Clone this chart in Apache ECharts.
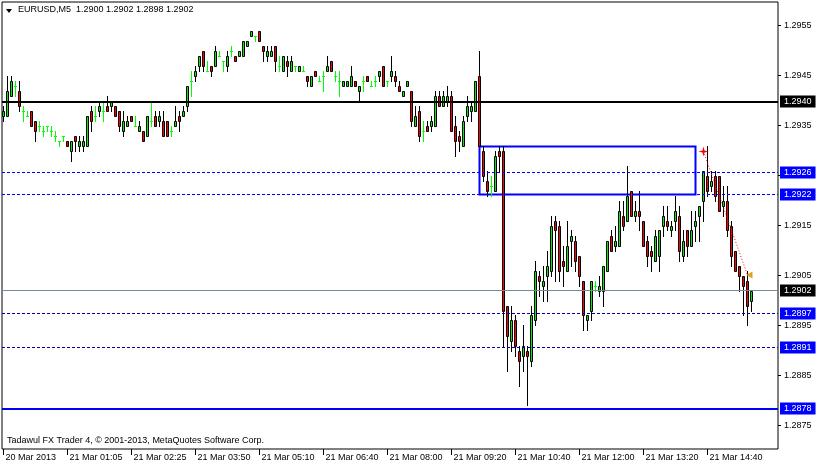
<!DOCTYPE html>
<html><head><meta charset="utf-8">
<script src="https://cdn.jsdelivr.net/npm/echarts@6/dist/echarts.min.js"></script>
<style>html,body{margin:0;padding:0;background:#fff;}#c{width:817px;height:467px;}</style>
</head><body><div id="c"></div>
<script>
const symbolName = 'EURUSD,M5';
const opens = [1.2937,1.2937,1.2941,1.2943,1.2942,1.2938,1.2937,1.2938,1.2936,1.2935,1.2934,1.2935,1.2934,1.2933,1.2932,1.2933,1.2932,1.2930,1.2933,1.2931,1.2931,1.2931,1.2938,1.2937,1.2938,1.2938,1.2939,1.2939,1.2939,1.2938,1.2934,1.2935,1.2937,1.2935,1.2934,1.2934,1.2933,1.2936,1.2937,1.2936,1.2936,1.2936,1.2934,1.2935,1.2937,1.2937,1.2939,1.2944,1.2945,1.2947,1.2950,1.2946,1.2947,1.2947,1.2949,1.2948,1.2947,1.2950,1.2949,1.2949,1.2949,1.2951,1.2953,1.2953,1.2954,1.2951,1.2949,1.2949,1.2951,1.2947,1.2946,1.2948,1.2946,1.2947,1.2946,1.2946,1.2945,1.2943,1.2946,1.2944,1.2945,1.2946,1.2948,1.2945,1.2944,1.2943,1.2943,1.2943,1.2944,1.2942,1.2944,1.2945,1.2943,1.2944,1.2945,1.2947,1.2944,1.2945,1.2945,1.2943,1.2941,1.2943,1.2942,1.2935,1.2938,1.2934,1.2935,1.2935,1.2935,1.2941,1.2939,1.2940,1.2941,1.2935,1.2933,1.2931,1.2937,1.2938,1.2938,1.2945,1.2930,1.2924,1.2923,1.2922,1.2930,1.2930,1.2899,1.2892,1.2896,1.2890,1.2889,1.2890,1.2888,1.2896,1.2905,1.2903,1.2905,1.2906,1.2916,1.2915,1.2908,1.2906,1.2912,1.2912,1.2909,1.2904,1.2896,1.2898,1.2903,1.2902,1.2902,1.2906,1.2913,1.2911,1.2911,1.2917,1.2916,1.2922,1.2917,1.2918,1.2916,1.2912,1.2910,1.2908,1.2909,1.2915,1.2916,1.2914,1.2916,1.2917,1.2909,1.2914,1.2911,1.2915,1.2917,1.2920,1.2925,1.2923,1.2925,1.2925,1.2919,1.2920,1.2915,1.2910,1.2907,1.2905,1.2904,1.2900];
const highs = [1.2939,1.2945,1.2945,1.2944,1.2944,1.2939,1.2938,1.2938,1.2936,1.2936,1.2935,1.2935,1.2935,1.2934,1.2932,1.2933,1.2932,1.2932,1.2933,1.2933,1.2933,1.2937,1.2939,1.2939,1.2940,1.2940,1.2941,1.2940,1.2939,1.2938,1.2938,1.2937,1.2937,1.2937,1.2936,1.2934,1.2937,1.2940,1.2938,1.2938,1.2938,1.2936,1.2935,1.2939,1.2938,1.2939,1.2943,1.2946,1.2947,1.2949,1.2950,1.2948,1.2947,1.2951,1.2950,1.2948,1.2950,1.2951,1.2949,1.2950,1.2952,1.2952,1.2954,1.2953,1.2954,1.2951,1.2951,1.2951,1.2951,1.2949,1.2949,1.2949,1.2949,1.2947,1.2947,1.2947,1.2945,1.2945,1.2946,1.2945,1.2946,1.2949,1.2948,1.2946,1.2946,1.2944,1.2944,1.2947,1.2944,1.2943,1.2945,1.2945,1.2944,1.2945,1.2946,1.2947,1.2944,1.2949,1.2946,1.2944,1.2942,1.2944,1.2942,1.2939,1.2939,1.2936,1.2936,1.2937,1.2942,1.2942,1.2942,1.2943,1.2942,1.2937,1.2934,1.2937,1.2941,1.2940,1.2944,1.2950,1.2931,1.2926,1.2925,1.2930,1.2931,1.2931,1.2899,1.2899,1.2897,1.2891,1.2895,1.2891,1.2899,1.2908,1.2906,1.2907,1.2910,1.2917,1.2917,1.2916,1.2911,1.2916,1.2914,1.2913,1.2909,1.2904,1.2897,1.2904,1.2904,1.2905,1.2907,1.2912,1.2914,1.2915,1.2920,1.2920,1.2927,1.2922,1.2920,1.2922,1.2916,1.2913,1.2911,1.2914,1.2914,1.2919,1.2919,1.2916,1.2921,1.2919,1.2914,1.2914,1.2918,1.2918,1.2919,1.2926,1.2931,1.2926,1.2926,1.2925,1.2923,1.2923,1.2916,1.2910,1.2907,1.2905,1.2906,1.2902];
const lows = [1.2936,1.2937,1.2941,1.2941,1.2938,1.2936,1.2937,1.2935,1.2932,1.2934,1.2933,1.2934,1.2933,1.2932,1.2931,1.2932,1.2931,1.2928,1.2930,1.2930,1.2930,1.2931,1.2934,1.2936,1.2937,1.2936,1.2938,1.2938,1.2937,1.2934,1.2933,1.2935,1.2936,1.2935,1.2934,1.2932,1.2933,1.2935,1.2935,1.2935,1.2933,1.2933,1.2933,1.2935,1.2934,1.2937,1.2938,1.2941,1.2944,1.2946,1.2946,1.2946,1.2945,1.2947,1.2949,1.2946,1.2946,1.2949,1.2948,1.2949,1.2949,1.2951,1.2953,1.2952,1.2952,1.2948,1.2948,1.2949,1.2946,1.2946,1.2946,1.2945,1.2946,1.2946,1.2946,1.2946,1.2943,1.2943,1.2945,1.2944,1.2942,1.2946,1.2946,1.2944,1.2941,1.2943,1.2943,1.2943,1.2943,1.2940,1.2942,1.2944,1.2943,1.2943,1.2944,1.2943,1.2943,1.2944,1.2943,1.2942,1.2941,1.2943,1.2935,1.2935,1.2932,1.2932,1.2934,1.2934,1.2935,1.2939,1.2939,1.2939,1.2934,1.2929,1.2930,1.2931,1.2936,1.2936,1.2938,1.2931,1.2924,1.2921,1.2921,1.2922,1.2926,1.2891,1.2886,1.2890,1.2889,1.2883,1.2886,1.2879,1.2887,1.2895,1.2901,1.2900,1.2900,1.2905,1.2904,1.2904,1.2903,1.2906,1.2907,1.2906,1.2903,1.2894,1.2894,1.2896,1.2902,1.2901,1.2899,1.2906,1.2910,1.2910,1.2911,1.2914,1.2916,1.2917,1.2916,1.2914,1.2911,1.2907,1.2906,1.2908,1.2906,1.2913,1.2914,1.2913,1.2914,1.2908,1.2908,1.2909,1.2911,1.2912,1.2912,1.2916,1.2921,1.2922,1.2920,1.2918,1.2917,1.2913,1.2907,1.2906,1.2902,1.2897,1.2895,1.2898];
const closes = [1.2938,1.2942,1.2944,1.2943,1.2939,1.2938,1.2937,1.2935,1.2934,1.2935,1.2934,1.2935,1.2934,1.2933,1.2932,1.2933,1.2931,1.2932,1.2932,1.2932,1.2932,1.2937,1.2936,1.2937,1.2939,1.2938,1.2938,1.2940,1.2937,1.2935,1.2936,1.2936,1.2936,1.2935,1.2935,1.2932,1.2937,1.2936,1.2935,1.2937,1.2933,1.2933,1.2934,1.2936,1.2936,1.2938,1.2943,1.2944,1.2946,1.2949,1.2947,1.2946,1.2946,1.2950,1.2949,1.2948,1.2949,1.2950,1.2948,1.2950,1.2952,1.2952,1.2954,1.2953,1.2952,1.2950,1.2950,1.2950,1.2948,1.2947,1.2949,1.2947,1.2948,1.2947,1.2947,1.2946,1.2944,1.2945,1.2945,1.2944,1.2945,1.2947,1.2946,1.2945,1.2944,1.2944,1.2944,1.2945,1.2943,1.2943,1.2944,1.2944,1.2943,1.2944,1.2946,1.2943,1.2944,1.2946,1.2944,1.2942,1.2942,1.2944,1.2936,1.2937,1.2933,1.2934,1.2934,1.2936,1.2941,1.2939,1.2941,1.2941,1.2934,1.2932,1.2932,1.2936,1.2939,1.2939,1.2944,1.2931,1.2925,1.2922,1.2923,1.2929,1.2929,1.2898,1.2893,1.2896,1.2891,1.2888,1.2891,1.2889,1.2897,1.2906,1.2904,1.2904,1.2907,1.2915,1.2914,1.2906,1.2907,1.2911,1.2913,1.2908,1.2905,1.2897,1.2897,1.2904,1.2903,1.2903,1.2907,1.2912,1.2910,1.2912,1.2918,1.2915,1.2921,1.2917,1.2918,1.2917,1.2911,1.2909,1.2909,1.2913,1.2914,1.2917,1.2915,1.2915,1.2918,1.2910,1.2912,1.2911,1.2914,1.2916,1.2919,1.2926,1.2922,1.2924,1.2921,1.2918,1.2920,1.2914,1.2909,1.2906,1.2905,1.2903,1.2899,1.2902];
const tickLabels = ['20 Mar 2013','21 Mar 01:05','21 Mar 02:25','21 Mar 03:50','21 Mar 05:10','21 Mar 06:40','21 Mar 08:00','21 Mar 09:20','21 Mar 10:40','21 Mar 12:00','21 Mar 13:20','21 Mar 14:40'];
const priceTicks = [1.2875,1.2885,1.2895,1.2905,1.2915,1.2925,1.2935,1.2945,1.2955];
const levelPrices = [1.29398,1.29256,1.29212,1.29020,1.28974,1.28906,1.28784];
const levelLabels = ['1.2940','1.2926','1.2922','1.2902','1.2897','1.2891','1.2878'];
const boxBars = [119,173];
const boxPrices = [1.29308,1.29212];
const trendBars = [175,186];
const trendPrices = [1.29298,1.29051];
const copyright = 'Tadawul FX Trader 4, \u00a9 2001-2013, MetaQuotes Software Corp.';

const BARS_PER_LABEL = 16;
const barIndex = opens.map((_, i) => i);
const candles = opens.map((o, i) => [barIndex[i], o, closes[i], lows[i], highs[i]]);
const labelBars = tickLabels.map((_, k) => k * BARS_PER_LABEL);
const last = opens.length - 1;
const header = symbolName + '  ' + [opens[last], highs[last], lows[last], closes[last]].map(v => v.toFixed(4)).join(' ');

const FONT = 'Liberation Sans, Arial, sans-serif';
const UP = '#00f000', DOWN = '#ff0000', DOJI = '#00ff00', EDGE = '#000000';
const levelStyles = [
  {c:'#000000', t:'solid', w:2, bg:'#000000'},
  {c:'#0000ff', t:[3,2], w:1, bg:'#0000ff'},
  {c:'#0000ff', t:[3,2], w:1, bg:'#0000ff'},
  {c:'#778899', t:'solid', w:1, bg:'#000000'},
  {c:'#0000b0', t:[3,2], w:1, bg:'#0000ff'},
  {c:'#0000b0', t:[3,2], w:1, bg:'#0000ff'},
  {c:'#0000ff', t:'solid', w:2, bg:'#0000ff'}
];
const levelLines = levelPrices.map((p, i) => ({
  yAxis: p,
  lineStyle: {color: levelStyles[i].c, type: levelStyles[i].t, width: levelStyles[i].w},
  label: {show: true, position: 'end', distance: 2, formatter: () => levelLabels[i],
    color: '#ffffff', backgroundColor: levelStyles[i].bg, padding: [2, 4, 1, 4],
    fontFamily: FONT, fontSize: 9}
}));

function renderCandle(params, api) {
  const i = api.value(0), o = api.value(1), c = api.value(2), l = api.value(3), h = api.value(4);
  const pO = api.coord([i, o]);
  const k = Math.floor(pO[0]);
  const yo = Math.round(pO[1]);
  const yc = Math.round(api.coord([i, c])[1]);
  const yl = Math.round(api.coord([i, l])[1]);
  const yh = Math.round(api.coord([i, h])[1]);
  const children = [];
  if (o === c) {
    children.push({type: 'line', shape: {x1: k + 0.5, y1: yh, x2: k + 0.5, y2: yl + 1}, style: {stroke: DOJI, lineWidth: 1}});
    children.push({type: 'line', shape: {x1: k - 1, y1: yo + 0.5, x2: k + 2, y2: yo + 0.5}, style: {stroke: DOJI, lineWidth: 1}});
  } else {
    const top = Math.min(yo, yc), bot = Math.max(yo, yc);
    children.push({type: 'line', shape: {x1: k + 0.5, y1: yh, x2: k + 0.5, y2: yl + 1}, style: {stroke: EDGE, lineWidth: 1}});
    children.push({type: 'rect', shape: {x: k - 0.5, y: top + 0.5, width: 2, height: bot - top}, style: {fill: c > o ? UP : DOWN, stroke: EDGE, lineWidth: 1}});
  }
  return {type: 'group', children};
}

const chart = echarts.init(document.getElementById('c'), null, {renderer: 'canvas'});
chart.setOption({
  animation: false,
  backgroundColor: '#ffffff',
  grid: {left: 2, right: 39, top: 2, bottom: 18, show: true, borderColor: '#000', borderWidth: 1, backgroundColor: 'transparent'},
  xAxis: {
    type: 'value', min: -0.375, max: 193.625, scale: true,
    axisLine: {show: false, onZero: false},
    axisTick: {show: true, length: 6, customValues: labelBars, lineStyle: {color: '#000'}},
    axisLabel: {show: true, customValues: labelBars, formatter: (v) => tickLabels[Math.round(v / BARS_PER_LABEL)] || '',
      align: 'left', margin: 4, padding: [0, 0, 0, 2], color: '#000', fontFamily: FONT, fontSize: 9},
    splitLine: {show: false}
  },
  yAxis: {
    type: 'value', position: 'right', min: 1.28703, max: 1.29597, scale: true,
    axisLine: {show: false, onZero: false},
    axisTick: {show: true, length: 3, customValues: priceTicks, lineStyle: {color: '#000'}},
    axisLabel: {show: true, customValues: priceTicks, formatter: (v) => Number(v).toFixed(4), margin: 6,
      color: '#000', fontFamily: FONT, fontSize: 9},
    splitLine: {show: false}
  },
  graphic: [
    {type: 'polygon', shape: {points: [[6, 9], [12, 9], [9, 13]]}, style: {fill: '#000'}},
    {type: 'text', x: 18, y: 5, style: {text: header, font: '9px ' + FONT, fill: '#000'}},
    {type: 'text', x: 7, y: 436, style: {text: copyright, font: '9px ' + FONT, fill: '#000'}}
  ],
  series: [
    {
      type: 'custom', name: symbolName, data: candles, encode: {x: 0, y: [1, 2, 3, 4]}, renderItem: renderCandle, clip: false, z: 2, silent: true,
      markLine: {silent: true, precision: 6, symbol: ['none', 'none'], animation: false, data: levelLines.concat([
        [{coord: [trendBars[0], trendPrices[0]], lineStyle: {color: '#ff0000', type: [1, 2], width: 1}, label: {show: false}},
         {coord: [trendBars[1], trendPrices[1]]}]
      ])},
      markArea: {silent: true, precision: 6, data: [[
        {coord: [boxBars[0], boxPrices[0]], itemStyle: {color: 'rgba(0,0,0,0)', borderColor: '#0000ff', borderWidth: 2}},
        {coord: [boxBars[1], boxPrices[1]]}
      ]]},
      markPoint: {silent: true, precision: 6, data: [
        {coord: [trendBars[0], trendPrices[0]], symbol: 'path://M5 0 L6 4 L10 5 L6 6 L5 10 L4 6 L0 5 L4 4 Z', symbolSize: 10, itemStyle: {color: '#ff0000'}, label: {show: false}},
        {coord: [trendBars[1], trendPrices[1]], symbol: 'triangle', symbolRotate: 90, symbolSize: [7, 6], symbolOffset: [2, 0], itemStyle: {color: '#e0a020'}, label: {show: false}}
      ]}
    }
  ]
});
</script>
</body></html>
